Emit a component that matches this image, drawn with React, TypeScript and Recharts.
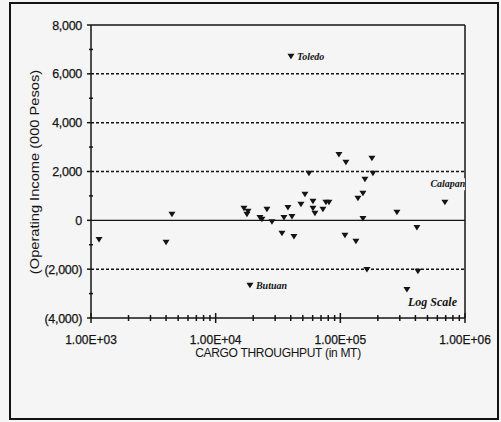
import React from "react";
import {
  ScatterChart,
  Scatter,
  XAxis,
  YAxis,
  ReferenceLine,
} from "recharts";

// ports without annotations
const portThroughput = [
  1160, 4000, 4460, 16860, 18160, 17820, 25780, 22660, 23510, 28290, 34020,
  42460, 35300, 37990, 40920, 48320, 52020, 56010, 60310, 60310, 62560, 72520,
  76640, 81040, 97450, 110900, 108900, 133400, 179200, 182600, 157500, 151800,
  138400, 151800, 284400, 411400, 163400, 419100, 342100,
];
const portIncome = [
  -780, -900, 250, 490, 370, 250, 450, 120, 40, -60, -530, -660, 120, 530, 160,
  660, 1070, 1930, 780, 490, 290, 450, 740, 740, 2700, 2380, -610, -860, 2540,
  1930, 1680, 1110, 900, 80, 330, -290, -2010, -2090, -2830,
];

// annotated ports
const namedPorts = ["Toledo", "Butuan", "Calapan"];
const namedThroughput = [40170, 18840, 690000];
const namedIncome = [6720, -2660, 740];

const xMajorTicks = [1e3, 1e4, 1e5, 1e6];
const xTicks = [
  1e3, 2e3, 3e3, 4e3, 5e3, 6e3, 7e3, 8e3, 9e3, 1e4, 2e4, 3e4, 4e4, 5e4, 6e4,
  7e4, 8e4, 9e4, 1e5, 2e5, 3e5, 4e5, 5e5, 6e5, 7e5, 8e5, 9e5, 1e6,
];
const yTicks = [
  -4000, -3000, -2000, -1000, 0, 1000, 2000, 3000, 4000, 5000, 6000, 7000,
  8000,
];
const yMajorTicks = [-4000, -2000, 0, 2000, 4000, 6000, 8000];
const dashedLevels = [-2000, 2000, 4000, 6000];

const ink = "#141414";
const paper = "#f5f5f5";

const points = portThroughput.map((x, i) => ({ x, y: portIncome[i] }));
const namedPoints = namedPorts.map((name, i) => ({
  name,
  x: namedThroughput[i],
  y: namedIncome[i],
}));

const fmtX = (v: number) => {
  const exp = Math.round(Math.log10(v));
  return `1.00E+${String(exp).padStart(2, "0")}`;
};

const fmtY = (v: number) => {
  const s = Math.abs(v).toLocaleString("en-US");
  return v < 0 ? `(${s})` : s;
};

const XTick = (props: any) => {
  const { x, y, payload } = props;
  const major = xMajorTicks.includes(payload.value);
  const h = major ? 5 : 3;
  return (
    <g>
      <line x1={x} x2={x} y1={y - h} y2={y + h} stroke={ink} strokeWidth={1.5} />
      {major && (
        <text
          x={x}
          y={y + 26}
          textAnchor="middle"
          fontSize={12}
          fontFamily="Liberation Sans, Arial, sans-serif"
          fill={ink}
          stroke={ink}
          strokeWidth={0.25}
        >
          {fmtX(payload.value)}
        </text>
      )}
    </g>
  );
};

const YTick = (props: any) => {
  const { x, y, payload } = props;
  const major = yMajorTicks.includes(payload.value);
  return (
    <g>
      <line
        x1={major ? x - 4 : x - 2}
        x2={major ? x : x + 2}
        y1={y}
        y2={y}
        stroke={ink}
        strokeWidth={1.5}
      />
      {major && (
        <text
          x={x - 9}
          y={y + 4.5}
          textAnchor="end"
          fontSize={12.5}
          letterSpacing={-0.3}
          fontFamily="Liberation Sans, Arial, sans-serif"
          fill={ink}
          stroke={ink}
          strokeWidth={0.25}
        >
          {fmtY(payload.value)}
        </text>
      )}
    </g>
  );
};

const DownTriangle = (props: any) => {
  const { cx, cy } = props;
  if (cx == null || cy == null) return null;
  return (
    <polygon
      points={`${cx - 3.5},${cy - 2.5} ${cx + 3.5},${cy - 2.5} ${cx},${cy + 3}`}
      fill={ink}
    />
  );
};

const NamedMarker = (props: any) => {
  const { cx, cy, payload } = props;
  if (cx == null || cy == null) return null;
  const above = payload.name === "Calapan";
  const tx = above ? cx + 3 : cx + 6;
  const ty = above ? cy - 15 : cy + 3.5;
  return (
    <g>
      <DownTriangle cx={cx} cy={cy} />
      {above && <rect x={tx - 19} y={ty - 9} width={38} height={12} fill={paper} />}
      <text
        x={tx}
        y={ty}
        textAnchor={above ? "middle" : "start"}
        fontSize={10}
        fontStyle="italic"
        fontWeight="bold"
        fontFamily="Liberation Serif, Times New Roman, serif"
        fill={ink}
      >
        {payload.name}
      </text>
    </g>
  );
};

export default function App() {
  return (
    <div
      style={{
        position: "absolute",
        left: 0,
        top: 0,
        width: 501,
        height: 422,
        background: paper,
        overflow: "hidden",
      }}
    >
      <div
        style={{
          position: "absolute",
          left: 9,
          top: 2,
          width: 490,
          height: 418,
          border: `2px solid ${ink}`,
          boxSizing: "border-box",
        }}
      />
      <div style={{ position: "absolute", left: 0, top: 0 }}>
        <ScatterChart
          width={501}
          height={422}
          margin={{ top: 25, right: 36, bottom: 74, left: 31 }}
        >
          <XAxis
            type="number"
            dataKey="x"
            scale="log"
            domain={[1000, 1000000]}
            ticks={xTicks}
            interval={0}
            allowDataOverflow
            tickSize={0}
            tickMargin={0}
            tick={<XTick />}
            height={30}
            axisLine={{ stroke: ink, strokeWidth: 1.5 }}
          />
          <YAxis
            type="number"
            dataKey="y"
            domain={[-4000, 8000]}
            ticks={yTicks}
            interval={0}
            allowDataOverflow
            tickSize={0}
            tickMargin={0}
            tick={<YTick />}
            width={60}
            axisLine={{ stroke: ink, strokeWidth: 1.5 }}
          />
          {dashedLevels.map((v) => (
            <ReferenceLine
              key={v}
              y={v}
              stroke={ink}
              strokeWidth={1.5}
              strokeDasharray="3 2"
            />
          ))}
          <ReferenceLine y={0} stroke={ink} strokeWidth={1.2} />
          <ReferenceLine y={8000} stroke={ink} strokeWidth={1.5} />
          <ReferenceLine x={1000000} stroke={ink} strokeWidth={1.5} />
          <Scatter
            data={points}
            shape={<DownTriangle />}
            isAnimationActive={false}
          />
          <Scatter
            data={namedPoints}
            shape={<NamedMarker />}
            isAnimationActive={false}
          />
        </ScatterChart>
      </div>
      <div
        style={{
          position: "absolute",
          left: 35,
          top: 172,
          transform: "translate(-50%, -50%) rotate(-90deg) scale(1.22, 1)",
          whiteSpace: "nowrap",
          fontFamily: "Liberation Sans, Arial, sans-serif",
          fontSize: 12,
          color: ink,
        }}
      >
        (Operating Income (000 Pesos)
      </div>
      <div
        style={{
          position: "absolute",
          left: 278,
          top: 353,
          transform: "translate(-50%, -50%)",
          whiteSpace: "nowrap",
          fontFamily: "Liberation Sans, Arial, sans-serif",
          fontSize: 12,
          letterSpacing: -0.3,
          color: ink,
        }}
      >
        CARGO THROUGHPUT (in MT)
      </div>
      <div
        style={{
          position: "absolute",
          left: 408,
          top: 295,
          whiteSpace: "nowrap",
          fontFamily: "Liberation Serif, Times New Roman, serif",
          fontStyle: "italic",
          fontWeight: "bold",
          fontSize: 12,
          color: ink,
        }}
      >
        Log Scale
      </div>
    </div>
  );
}
